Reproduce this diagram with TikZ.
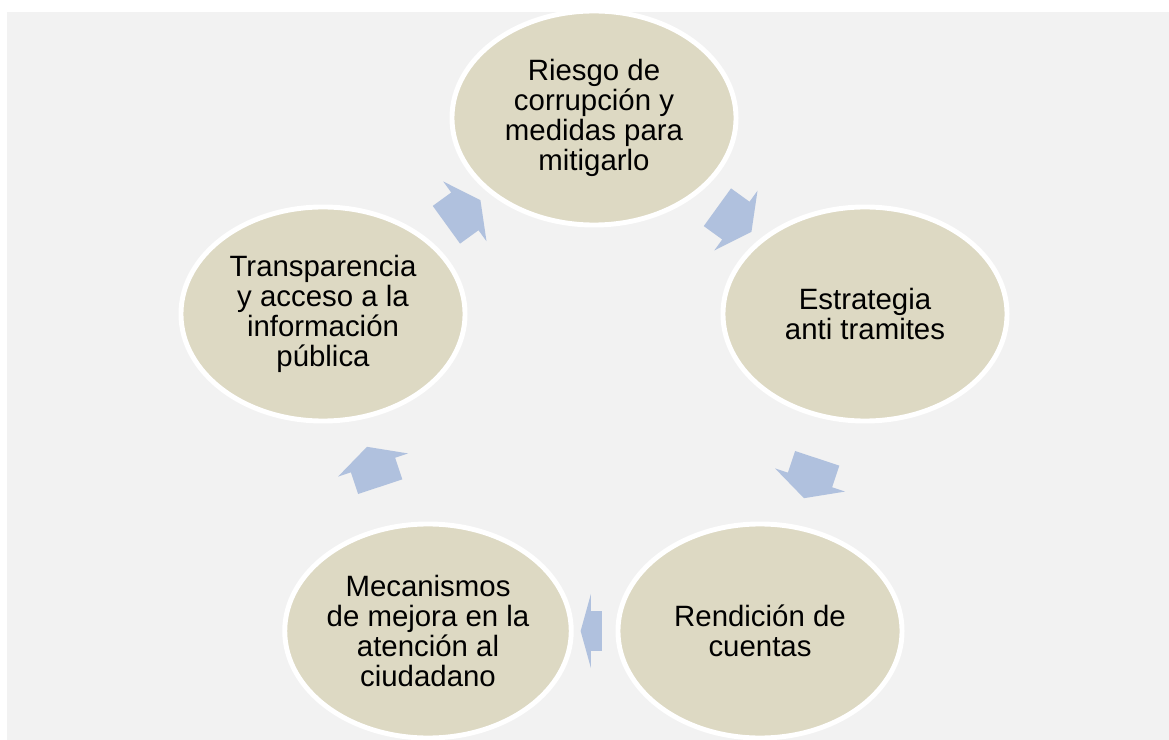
\documentclass[tikz,border=0pt]{standalone}
\usepackage{fontspec}
\setmainfont{Liberation Sans}
\usetikzlibrary{shapes.geometric, shapes.arrows, positioning, calc}
\definecolor{fondo}{RGB}{242, 242, 242}
\definecolor{arena}{RGB}{221, 217, 195}
\definecolor{azulclaro}{RGB}{176, 193, 222}

\begin{document}
\begin{tikzpicture}[
        x=0.025cm, y=-0.025cm,
        fase/.style={ellipse, draw=white, line width=3.5pt, fill=arena, minimum width=7.1cm, minimum height=5.35cm, inner sep=0pt, align=center, font=\fontsize{20.9}{21.5}\selectfont},
        paso/.style={single arrow, fill=azulclaro, minimum height=1.05cm, inner xsep=0pt, inner ysep=0.575cm, single arrow head extend=0.34cm, single arrow tip angle=125, sloped, allow upside down}
    ]
    % Background
    \useasboundingbox (0,0) rectangle (1169,740);
    \fill[fondo] (7,12) rectangle (1169,740);

    % RIESGO
    \node[fase] (riesgo) at (594,118) {Riesgo de\\corrupción y\\medidas para\\mitigarlo};

    % ESTRATEGIA
    \node[fase] (estrategia) at (865,314) {Estrategia\\anti tramites};

    % RENDICION
    \node[fase] (rendicion) at (760,631) {Rendición de\\cuentas};

    % MECANISMOS
    \node[fase] (mecanismos) at (428,631) {Mecanismos\\de mejora en la\\atención al\\ciudadano};

    % TRANSPARENCIA
    \node[fase] (transparencia) at (323,314) {Transparencia\\y acceso a la\\información\\pública};

    % Cycle
    \path (transparencia.center) -- node[paso] {} (riesgo.center);
    \path (riesgo.center) -- node[paso] {} (estrategia.center);
    \path (estrategia.center) -- node[paso] {} (rendicion.center);
    \path (rendicion.center) -- node[paso, minimum height=0.53cm, inner ysep=0.49cm, single arrow head extend=0.43cm, single arrow tip angle=149] {} (mecanismos.center);
    \path (mecanismos.center) -- node[paso] {} (transparencia.center);
\end{tikzpicture}
\end{document}
